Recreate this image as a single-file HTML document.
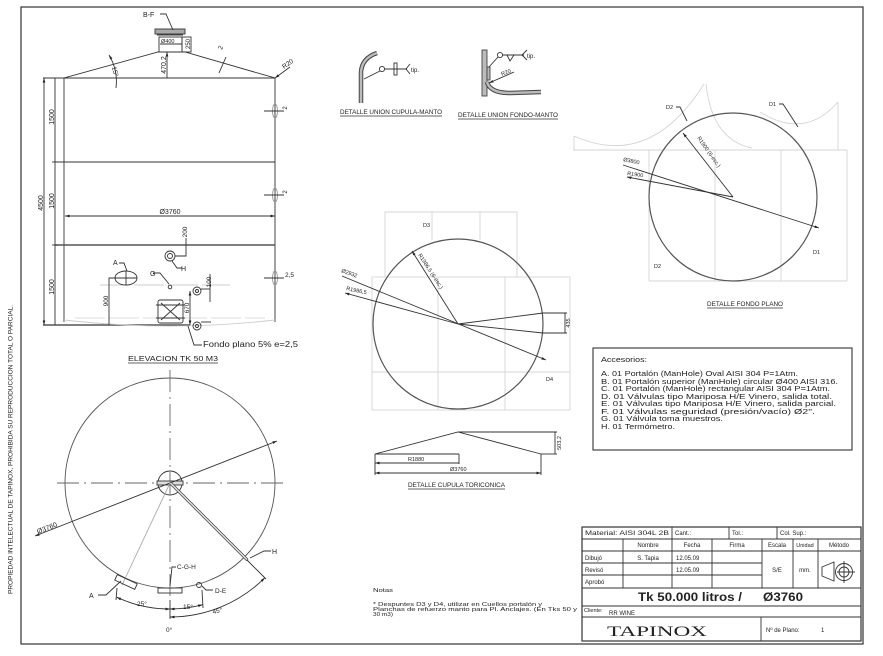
<!DOCTYPE html>
<html><head><meta charset="utf-8"><style>
html,body{margin:0;padding:0;background:#fff;}
svg{display:block;}
text{font-family:"Liberation Sans",sans-serif;fill:#222;stroke:none;}
</style></head><body>
<svg width="883" height="656" viewBox="0 0 883 656" xmlns="http://www.w3.org/2000/svg">
<defs>
<marker id="a" viewBox="0 0 10 10" refX="10" refY="5" markerWidth="5" markerHeight="5" orient="auto-start-reverse"><path d="M0,2 L10,5 L0,8 z" fill="#222"/></marker>
</defs>
<rect width="883" height="656" fill="#fff"/>
<rect x="21" y="7" width="842" height="637" fill="none" stroke="#333" stroke-width="1.2"/>
<text transform="translate(12.5,594) rotate(-90)" font-size="6.5" textLength="289" lengthAdjust="spacingAndGlyphs">PROPIEDAD INTELECTUAL DE TAPINOX, PROHIBIDA SU REPRODUCCION TOTAL O PARCIAL.</text>

<!-- ============ ELEVATION ============ -->
<g stroke="#333" stroke-width="0.9" fill="none">
<polyline points="64,322 64,78 158,52 185,52 275,78 275,322"/>
<line x1="43" y1="78" x2="275" y2="78"/>
<line x1="55" y1="162" x2="275" y2="162"/>
<line x1="55" y1="245" x2="275" y2="245" stroke-width="1.5" stroke="#555"/>
<line x1="43" y1="325" x2="190" y2="325" stroke-width="1.3"/>
<path d="M64,320 Q170,332 275,320" stroke="#ccc"/>
<line x1="100" y1="285" x2="230" y2="285" stroke="#ccc" stroke-dasharray="30,4"/>
<line x1="75" y1="318" x2="265" y2="318" stroke="#ddd" stroke-dasharray="30,4"/>
<line x1="44" y1="78" x2="44" y2="325" marker-start="url(#a)" marker-end="url(#a)"/>
<line x1="55" y1="78" x2="55" y2="325"/>
<line x1="52" y1="162" x2="58" y2="162"/><line x1="52" y1="245" x2="58" y2="245"/>
<line x1="65" y1="216" x2="275" y2="216" marker-start="url(#a)" marker-end="url(#a)"/>
<!-- right bumps -->
<ellipse cx="275" cy="111" rx="2.5" ry="7" stroke="#999"/>
<line x1="264" y1="111" x2="284" y2="111"/>
<ellipse cx="275" cy="195" rx="2.5" ry="7" stroke="#999"/>
<line x1="264" y1="195" x2="284" y2="195"/>
<ellipse cx="275" cy="278" rx="2.5" ry="7" stroke="#999"/>
<line x1="264" y1="278" x2="284" y2="278"/>
<!-- top manhole B -->
<rect x="155" y="29" width="30" height="5" fill="#aaa"/>
<line x1="157" y1="35" x2="183" y2="35"/>
<rect x="159" y="37" width="23" height="15"/>
<rect x="182" y="37" width="9" height="15"/>
<line x1="160" y1="44" x2="182" y2="44"/>
<polyline points="160,14 166,14 173,30"/>
<line x1="167" y1="52" x2="167" y2="78" marker-start="url(#a)"/>
<path d="M109,55 A52,52 0 0 1 116,88" marker-start="url(#a)"/>
<line x1="219" y1="73" x2="226" y2="57"/>
<line x1="275" y1="78" x2="290" y2="67" marker-start="url(#a)"/>
<!-- inner details -->
<circle cx="170" cy="256" r="5"/><circle cx="170" cy="256" r="2.5"/>
<polyline points="175,256 186,256 186,238"/>
<polyline points="172,261 177,268 182,268"/>
<ellipse cx="126" cy="278" rx="11" ry="7"/>
<line x1="115" y1="278" x2="137" y2="278"/><line x1="126" y1="271" x2="126" y2="285"/>
<polyline points="119,263 124,263 127,271"/>
<polyline points="153,273 160,273 169,284"/>
<circle cx="170" cy="287" r="1.8"/>
<polyline points="109,325 109,278 115,278"/>
<circle cx="197" cy="291" r="4"/><circle cx="197" cy="291" r="1.5"/>
<line x1="201" y1="289" x2="210" y2="289"/>
<line x1="210" y1="274" x2="210" y2="302"/>
<line x1="190" y1="291" x2="190" y2="325" marker-start="url(#a)" marker-end="url(#a)"/>
<rect x="158" y="300" width="25" height="23" rx="2"/>
<line x1="161" y1="303" x2="180" y2="320"/><line x1="180" y1="303" x2="161" y2="320"/>
<line x1="156" y1="305" x2="185" y2="305"/><line x1="156" y1="318" x2="185" y2="318"/>
<circle cx="197" cy="326" r="4"/><circle cx="197" cy="326" r="1.5"/>
<line x1="201" y1="322" x2="211" y2="322"/>
<polyline points="188,326 194,345 202,345"/>
<line x1="128" y1="363" x2="218" y2="363" stroke-width="0.7"/>
</g>
<g font-size="7">
<text transform="translate(43,203) rotate(-90)" text-anchor="middle">4500</text>
<text transform="translate(54,117) rotate(-90)" text-anchor="middle">1500</text>
<text transform="translate(54,201) rotate(-90)" text-anchor="middle">1500</text>
<text transform="translate(54,287) rotate(-90)" text-anchor="middle">1500</text>
<text x="170" y="214" text-anchor="middle">Ø3760</text>
<text x="143" y="17" font-size="7">B-F</text>
<text x="161" y="43" font-size="5.5">Ø400</text>
<text transform="translate(190,44) rotate(-90)" text-anchor="middle" font-size="6">250</text>
<text transform="translate(166,65) rotate(-90)" text-anchor="middle">470,2</text>
<text transform="translate(113,72) rotate(75)" text-anchor="middle" font-size="6.5">15°</text>
<text transform="translate(222,50) rotate(-70)" font-size="6.5">2</text>
<text transform="translate(284,69) rotate(-35)" font-size="6.5">R20</text>
<text transform="translate(287,108) rotate(-90)" font-size="6" text-anchor="middle">2</text>
<text transform="translate(287,192) rotate(-90)" font-size="6" text-anchor="middle">2</text>
<text x="285" y="277" font-size="6.5">2,5</text>
<text transform="translate(187,232) rotate(-90)" text-anchor="middle" font-size="6.5">200</text>
<text x="181" y="271" font-size="7">H</text>
<text x="113" y="265" font-size="7">A</text>
<text x="150" y="276" font-size="7">G</text>
<text transform="translate(211,282) rotate(-90)" text-anchor="middle" font-size="6.5">100</text>
<text transform="translate(108,301) rotate(-90)" text-anchor="middle" font-size="6.5">900</text>
<text transform="translate(189,308) rotate(-90)" text-anchor="middle" font-size="6.5">670</text>
<text x="203" y="347" font-size="8" textLength="95" lengthAdjust="spacingAndGlyphs">Fondo plano 5% e=2,5</text>
<text x="128" y="361" font-size="7.5" textLength="90" lengthAdjust="spacingAndGlyphs">ELEVACION TK 50 M3</text>
</g>

<!-- ============ PLAN VIEW ============ -->
<g stroke="#333" stroke-width="0.9" fill="none">
<circle cx="170" cy="483" r="105" stroke="#555"/>
<line x1="57" y1="483" x2="284" y2="483" stroke="#666" stroke-dasharray="22,5,2,5"/>
<line x1="170" y1="370" x2="170" y2="598" stroke="#666" stroke-dasharray="22,5,2,5"/>
<circle cx="170" cy="483" r="12"/>
<rect x="157" y="481" width="26" height="4" fill="#ddd"/>
<line x1="35" y1="536" x2="277" y2="441" marker-start="url(#a)" marker-end="url(#a)"/>
<polygon points="171,482 248,559 246.4,560.6 169.4,483.6" fill="#ddd" stroke="#444" stroke-width="0.7"/>
<line x1="247" y1="560" x2="266" y2="579"/>
<polyline points="250,558 264,551 271,551"/>
<line x1="170" y1="483" x2="122" y2="585" stroke="#aaa"/>
<rect x="-11" y="-3" width="22" height="6" transform="translate(126,582) rotate(25)"/>
<polyline points="98,595 106,595 121,581"/>
<polyline points="176,567 172,567 170,586"/>
<rect x="158" y="588" width="24" height="5"/>
<polyline points="213,590 206,590 202,586"/>
<circle cx="199" cy="585" r="2.5"/>
<line x1="117" y1="588" x2="116" y2="600"/>
<line x1="202" y1="590" x2="203" y2="608"/>
<path d="M116.7,597.2 A126,126 0 0 0 170,609" marker-start="url(#a)" marker-end="url(#a)"/>
<path d="M170,609 A126,126 0 0 0 202.6,604.7" marker-start="url(#a)" marker-end="url(#a)"/>
<path d="M170,617 A134,134 0 0 0 264.8,577.8" marker-start="url(#a)" marker-end="url(#a)"/>
<line x1="170" y1="600" x2="170" y2="619"/>
</g>
<g font-size="7">
<text transform="translate(38,534) rotate(-21.4)">Ø3760</text>
<text x="272" y="554">H</text>
<text x="89" y="598">A</text>
<text x="177" y="569" font-size="6.5">C-G-H</text>
<text x="215" y="593" font-size="6.5">D-E</text>
<text x="137" y="606" font-size="6.5">25°</text>
<text x="183" y="609" font-size="6.5">15°</text>
<text transform="translate(213,614) rotate(-12)" font-size="6.5">45°</text>
<text x="166" y="632" font-size="6.5">0°</text>
</g>

<!-- ============ TOP DETAILS ============ -->
<g stroke="#333" stroke-width="0.9" fill="none">
<path d="M361,103 L361,72 Q362,58 377,53" stroke="#444" stroke-width="4.5"/>
<path d="M361,103 L361,72 Q362,58 377,53" stroke="#bbb" stroke-width="2.5"/>
<circle cx="382" cy="69" r="2.6"/>
<line x1="380" y1="71" x2="364" y2="79"/>
<line x1="385" y1="69" x2="407" y2="69"/>
<rect x="394" y="63" width="3" height="12"/>
<polyline points="410,64 406,69 410,74"/>
<rect x="482" y="50" width="5" height="46" fill="#bbb" stroke="#444"/>
<rect x="487" y="67" width="3" height="13" fill="#bbb" stroke="#444"/>
<path d="M487,82 Q490,93 510,93 L541,92" stroke="#444" stroke-width="4.5"/>
<path d="M487,82 Q490,93 510,93 L541,92" stroke="#bbb" stroke-width="2.5"/>
<circle cx="500" cy="55" r="2.6"/>
<line x1="498" y1="57" x2="489" y2="67"/>
<line x1="503" y1="55" x2="524" y2="55"/>
<polyline points="507,55 510,61 514,55"/>
<polyline points="527,50 522,55 527,60"/>
<line x1="514" y1="72" x2="489" y2="83" marker-end="url(#a)"/>
<line x1="340" y1="116" x2="442" y2="116" stroke-width="0.7"/>
<line x1="458" y1="119" x2="558" y2="119" stroke-width="0.7"/>
</g>
<g font-size="6">
<text x="411" y="72">tip.</text>
<text x="527" y="58">tip.</text>
<text transform="translate(502,76) rotate(-22)" font-size="5.5">R20</text>
<text x="340" y="114" textLength="102" lengthAdjust="spacingAndGlyphs">DETALLE UNION CUPULA-MANTO</text>
<text x="458" y="117" textLength="100" lengthAdjust="spacingAndGlyphs">DETALLE UNION FONDO-MANTO</text>
</g>

<!-- ============ FONDO PLANO ============ -->
<g stroke="#d4d4d4" stroke-width="0.9" fill="none">
<line x1="573" y1="150" x2="847" y2="150"/>
<line x1="649" y1="281" x2="847" y2="281"/>
<line x1="649" y1="150" x2="649" y2="281"/>
<line x1="715" y1="150" x2="715" y2="281"/>
<line x1="781" y1="150" x2="781" y2="281"/>
<line x1="847" y1="150" x2="847" y2="281"/>
<line x1="574" y1="136" x2="574" y2="150"/>
<path d="M574,136 Q650,170 704,84"/>
<path d="M706,84 Q712,140 752,148"/>
<path d="M760,112 Q805,140 838,102"/>
<line x1="838" y1="102" x2="838" y2="150"/>
</g>
<g stroke="#333" stroke-width="0.9" fill="none">
<circle cx="733" cy="197" r="84" stroke="#555" stroke-width="1.2"/>
<line x1="623" y1="165" x2="819" y2="228" marker-end="url(#a)"/>
<line x1="627" y1="177" x2="733" y2="197" marker-start="url(#a)"/>
<line x1="683" y1="133" x2="733" y2="197" marker-start="url(#a)"/>
<polyline points="676,107 680,107 687,121"/>
<polyline points="779,104 783,104 798,127"/>
<line x1="707" y1="308" x2="783" y2="308" stroke-width="0.7"/>
</g>
<g font-size="5.5">
<text transform="translate(623,161) rotate(12)">Ø3800</text>
<text transform="translate(627,175) rotate(8)">R1900</text>
<text transform="translate(697,138) rotate(55)">R1900 (6-esc.)</text>
<text x="666" y="109">D2</text>
<text x="769" y="106">D1</text>
<text x="813" y="254">D1</text>
<text x="654" y="268">D2</text>
<text x="707" y="306" font-size="6" textLength="76" lengthAdjust="spacingAndGlyphs">DETALLE FONDO PLANO</text>
</g>

<!-- ============ CUPULA CIRCLE ============ -->
<g stroke="#d6d6d6" stroke-width="0.9" fill="none">
<polyline points="385,277 385,212 517,212 517,277"/>
<line x1="432" y1="212" x2="432" y2="240"/>
<line x1="480" y1="212" x2="480" y2="240"/>
<rect x="372" y="277" width="198" height="133"/>
<line x1="372" y1="372" x2="570" y2="372"/>
<line x1="438" y1="277" x2="438" y2="410"/>
<line x1="505" y1="277" x2="505" y2="410"/>
</g>
<g stroke="#333" stroke-width="0.9" fill="none">
<circle cx="458" cy="324" r="85" stroke="#555" stroke-width="1.2"/>
<line x1="342" y1="276" x2="546" y2="360" marker-end="url(#a)"/>
<line x1="345" y1="293" x2="458" y2="324" marker-start="url(#a)"/>
<line x1="412" y1="251" x2="458" y2="324" marker-start="url(#a)"/>
<polyline points="567,313 543,313 458,324 543,333 567,333"/>
<line x1="565" y1="313" x2="565" y2="333"/>
<!-- toriconica -->
<polyline points="375,454 458,432 541,454"/>
<line x1="458" y1="432" x2="557" y2="432"/>
<line x1="541" y1="454" x2="557" y2="454"/>
<line x1="555" y1="432" x2="555" y2="454"/>
<line x1="375" y1="454" x2="459" y2="454"/>
<line x1="375" y1="454" x2="375" y2="475"/>
<line x1="541" y1="454" x2="541" y2="475"/>
<line x1="459" y1="454" x2="459" y2="464"/>
<line x1="375" y1="463" x2="459" y2="463" marker-start="url(#a)"/>
<line x1="375" y1="473" x2="541" y2="473" marker-start="url(#a)" marker-end="url(#a)"/>
<line x1="408" y1="489" x2="505" y2="489" stroke-width="0.7"/>
</g>
<g font-size="5.5">
<text transform="translate(341,272) rotate(20)">Ø2932</text>
<text transform="translate(346,290) rotate(12)">R1986,5</text>
<text transform="translate(418,255) rotate(57)">R1986,5 (6-esc.)</text>
<text transform="translate(570,323) rotate(-90)" text-anchor="middle">435</text>
<text x="423" y="227">D3</text>
<text x="546" y="381">D4</text>
<text transform="translate(561,443) rotate(-90)" text-anchor="middle">503,2</text>
<text x="408" y="461">R1880</text>
<text x="450" y="471">Ø3760</text>
<text x="408" y="487" font-size="6" textLength="97" lengthAdjust="spacingAndGlyphs">DETALLE CUPULA TORICONICA</text>
</g>

<!-- ============ ACCESORIOS ============ -->
<rect x="593" y="348" width="259" height="102" fill="none" stroke="#333" stroke-width="1.1"/>
<g font-size="7.5">
<text x="601" y="362" textLength="46" lengthAdjust="spacingAndGlyphs">Accesorios:</text>
<text x="601" y="376" textLength="197" lengthAdjust="spacingAndGlyphs">A. 01 Portalón (ManHole) Oval AISI 304 P=1Atm.</text>
<text x="601" y="384" textLength="237" lengthAdjust="spacingAndGlyphs">B. 01 Portalón superior (ManHole) circular Ø400 AISI 316.</text>
<text x="601" y="391" textLength="229" lengthAdjust="spacingAndGlyphs">C. 01 Portalón (ManHole) rectangular AISI 304 P=1Atm.</text>
<text x="601" y="399" textLength="231" lengthAdjust="spacingAndGlyphs">D. 01 Válvulas tipo Mariposa H/E Vinero, salida total.</text>
<text x="601" y="406" textLength="235" lengthAdjust="spacingAndGlyphs">E. 01 Válvulas tipo Mariposa H/E Vinero, salida parcial.</text>
<text x="601" y="414" textLength="214" lengthAdjust="spacingAndGlyphs">F. 01 Válvulas seguridad (presión/vacío) Ø2".</text>
<text x="601" y="421" textLength="122" lengthAdjust="spacingAndGlyphs">G. 01 Válvula toma muestros.</text>
<text x="601" y="429" textLength="74" lengthAdjust="spacingAndGlyphs">H. 01 Termómetro.</text>
</g>

<!-- ============ NOTES ============ -->
<g font-size="5">
<text x="373" y="592" textLength="20" lengthAdjust="spacingAndGlyphs">Notas</text>
<text x="373" y="606" textLength="169" lengthAdjust="spacingAndGlyphs">* Despuntes D3 y D4, utilizar en Cuellos portalón y</text>
<text x="373" y="611" textLength="204" lengthAdjust="spacingAndGlyphs">Planchas de refuerzo manto para Pl. Anclajes. (En Tks 50 y</text>
<text x="373" y="616" textLength="20" lengthAdjust="spacingAndGlyphs">30 m3)</text>
</g>

<!-- ============ TITLE BLOCK ============ -->
<g stroke="#333" stroke-width="0.9" fill="none">
<rect x="582" y="527" width="279" height="114" stroke-width="1.2"/>
<line x1="582" y1="539" x2="861" y2="539"/>
<line x1="582" y1="551" x2="861" y2="551"/>
<line x1="582" y1="563" x2="762" y2="563"/>
<line x1="582" y1="575" x2="762" y2="575"/>
<line x1="582" y1="588" x2="861" y2="588"/>
<line x1="582" y1="606" x2="861" y2="606"/>
<line x1="582" y1="617" x2="861" y2="617"/>
<line x1="672" y1="527" x2="672" y2="539"/>
<line x1="729" y1="527" x2="729" y2="539"/>
<line x1="777" y1="527" x2="777" y2="539"/>
<line x1="623" y1="539" x2="623" y2="588"/>
<line x1="672" y1="539" x2="672" y2="588"/>
<line x1="712" y1="539" x2="712" y2="588"/>
<line x1="762" y1="539" x2="762" y2="588"/>
<line x1="793" y1="539" x2="793" y2="588"/>
<line x1="818" y1="539" x2="818" y2="588"/>
<line x1="761" y1="617" x2="761" y2="641"/>
<polygon points="822,567 834,562 834,581 822,576"/>
<circle cx="844" cy="572" r="8.5"/>
<circle cx="844" cy="572" r="5"/>
<line x1="837" y1="572" x2="855" y2="572"/>
<line x1="844" y1="561" x2="844" y2="583"/>
</g>
<g font-size="6">
<text x="585" y="535" textLength="84" lengthAdjust="spacingAndGlyphs">Material: AISI 304L 2B</text>
<text x="675" y="535">Cant.:</text>
<text x="732" y="535">Tol.:</text>
<text x="780" y="535">Col. Sup.:</text>
<text x="648" y="547" text-anchor="middle">Nombre</text>
<text x="692" y="547" text-anchor="middle">Fecha</text>
<text x="737" y="547" text-anchor="middle">Firma</text>
<text x="777" y="547" text-anchor="middle">Escala</text>
<text x="805" y="547" text-anchor="middle" font-size="5.5">Unidad</text>
<text x="839" y="547" text-anchor="middle">Método</text>
<text x="585" y="560">Dibujó</text>
<text x="648" y="560" text-anchor="middle">S. Tapia</text>
<text x="676" y="560">12.05.09</text>
<text x="585" y="572">Revisó</text>
<text x="676" y="572">12.05.09</text>
<text x="585" y="584">Aprobó</text>
<text x="777" y="572" text-anchor="middle">S/E</text>
<text x="805" y="572" text-anchor="middle">mm.</text>
<text x="638" y="601" font-size="11.5" font-weight="bold" textLength="104" lengthAdjust="spacingAndGlyphs">Tk 50.000 litros /</text>
<text x="763" y="601" font-size="11.5" font-weight="bold" textLength="40" lengthAdjust="spacingAndGlyphs">Ø3760</text>
<text x="584" y="612" font-size="5.5">Cliente:</text>
<text x="609" y="615">RR WINE</text>
<text x="607" y="636" font-size="15" style="font-family:'Liberation Serif',serif" textLength="100" lengthAdjust="spacingAndGlyphs">TAPINOX</text>
<text x="766" y="632">Nº de Plano:</text>
<text x="821" y="632">1</text>
</g>
</svg>
</body></html>
